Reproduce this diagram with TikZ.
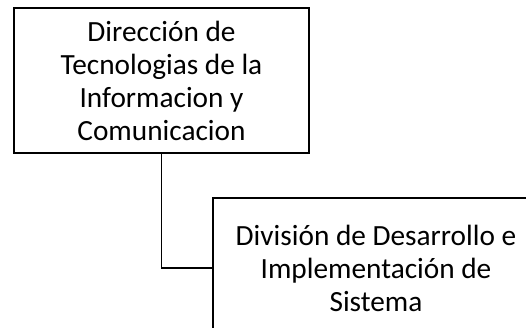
\documentclass[tikz,border=0pt]{standalone}
\usepackage{fontspec}
\setmainfont{Carlito}
\begin{document}
\begin{tikzpicture}[x=1pt,y=-1pt,
  orgbox/.style={draw=black,line width=1.4pt,fill=white,rectangle,align=center,
    inner sep=0pt,font=\fontsize{29.3}{33}\selectfont},
  link/.style={draw=black,line width=1.4pt}]
\useasboundingbox (0,0) rectangle (526,328);
\clip (0,0) rectangle (526,328);
\node[orgbox,minimum width=295pt,minimum height=145pt] (dir) at (161.5,80.5)
  {Dirección de\\Tecnologias de la\\Informacion y\\Comunicacion};
\node[orgbox,minimum width=326pt,minimum height=140pt] (div) at (376,268)
  {División de Desarrollo e\\Implementación de\\Sistema};
\draw[link] (dir.south) |- (div.west);
\end{tikzpicture}
\end{document}
